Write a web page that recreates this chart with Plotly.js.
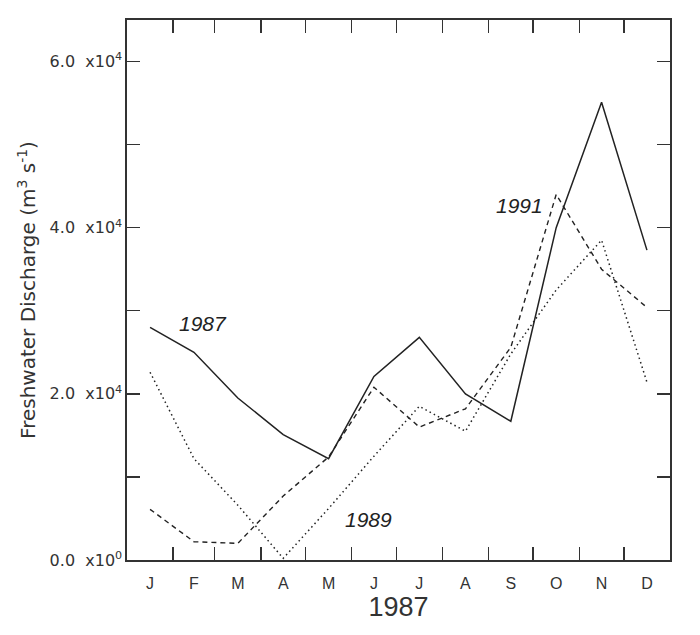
<!DOCTYPE html>
<html>
<head>
<meta charset="utf-8">
<script src="https://cdn.plot.ly/plotly-3.0.1.min.js"></script>
<style>html,body{margin:0;padding:0;background:#fff;}#chart{width:700px;height:635px;}</style>
</head>
<body>
<div id="chart"></div>
<script>
// ---- data ----
const monthLabels = ['J','F','M','A','M','J','J','A','S','O','N','D'];
const monthStarts = [0,31,59,90,120,151,181,212,243,273,304,334,365];
const monthMidDays = [15.5,45,74.5,105,135.5,166,196.5,227.5,258,288.5,319,349.5];
const discharge1987 = [28000,25000,19500,15100,12200,22100,26800,20000,16700,40000,55100,37300];
const discharge1989 = [22600,12200,6600,200,6200,12500,18500,15500,24800,32500,38500,21400];
const discharge1991 = [6100,2200,2000,7700,12400,20800,16000,18200,25600,44000,35000,30400];
const yTickVals = [0,10000,20000,30000,40000,50000,60000];
const yTickText = ['0.0&nbsp; x10<sup>0</sup>','','2.0&nbsp; x10<sup>4</sup>','','4.0&nbsp; x10<sup>4</sup>','','6.0&nbsp; x10<sup>4</sup>'];
const seriesLabels = ['1987','1989','1991'];
const labelDays = [51,162,264];
const labelValues = [28500,4900,42700];

const ink = '#222';
const font = 'Liberation Sans, Arial, sans-serif';
const wideFont = 'DejaVu Sans, Verdana, sans-serif';

const traces = [
  {x: monthMidDays, y: discharge1987, xaxis:'x', mode:'lines', line:{color:ink,width:1.5}, name:'1987'},
  {x: monthMidDays, y: discharge1989, xaxis:'x', mode:'lines', line:{color:ink,width:1.5,dash:'1.5px,3.2px'}, name:'1989'},
  {x: monthMidDays, y: discharge1991, xaxis:'x2', mode:'lines', line:{color:ink,width:1.4,dash:'5px,4px'}, name:'1991'}
];

const annotations = seriesLabels.map((t,i)=>({
  x: labelDays[i], y: labelValues[i], xref:'x', yref:'y', text:'<i>'+t+'</i>',
  showarrow:false, font:{family:font,size:21,color:ink}
}));

const layout = {
  width:700, height:635,
  margin:{l:127,r:30,t:20,b:75},
  paper_bgcolor:'#fff', plot_bgcolor:'#fff',
  showlegend:false,
  font:{family:font,color:ink},
  xaxis:{
    range:[0,365], tickmode:'array', tickvals:monthStarts, showticklabels:false,
    ticks:'inside', ticklen:13, tickwidth:1.3, tickcolor:'#333',
    showline:true, linewidth:1.6, linecolor:'#333', mirror:'ticks',
    showgrid:false, zeroline:false
  },
  xaxis2:{
    overlaying:'x', anchor:'y', side:'bottom', range:[0,365],
    tickmode:'array', tickvals:monthMidDays, ticktext:monthLabels,
    ticks:'', showline:false, showgrid:false, zeroline:false,
    ticklabelstandoff:12,
    tickfont:{family:font,size:16,color:'#333'},
    title:{text:'1987', font:{family:font,size:27,color:'#333'}, standoff:0}
  },
  yaxis:{
    range:[0,65000], tickmode:'array', tickvals:yTickVals, ticktext:yTickText,
    ticks:'inside', ticklen:13, tickwidth:1.3, tickcolor:'#333',
    showline:true, linewidth:1.6, linecolor:'#333', mirror:'ticks',
    showgrid:false, zeroline:false,
    tickfont:{family:wideFont,size:16,color:'#333'},
    title:{text:'Freshwater Discharge (m<sup>3</sup> s<sup>-1</sup>)', font:{family:wideFont,size:20,color:'#333'}, standoff:8}
  },
  annotations: annotations
};

Plotly.newPlot('chart', traces, layout, {staticPlot:true});
</script>
</body>
</html>
